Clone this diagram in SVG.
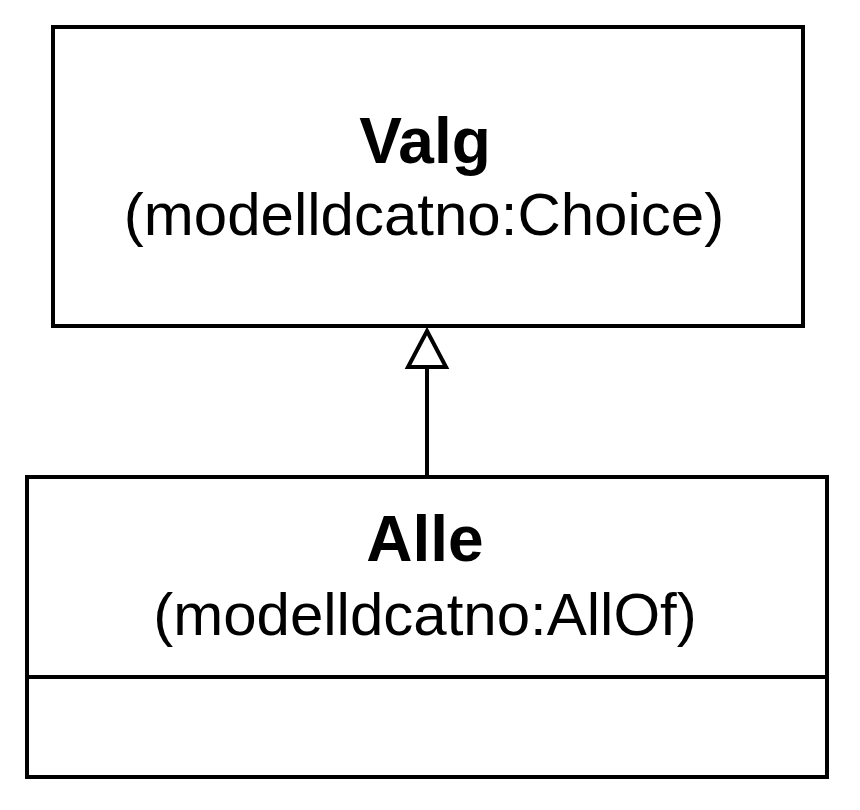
<svg xmlns="http://www.w3.org/2000/svg" width="860" height="810" viewBox="0 0 860 810">
<style>
.b{fill:#fff;stroke:#000;stroke-width:4}
.t{font-family:"Liberation Sans",Arial,sans-serif;text-anchor:middle;fill:#000}
.h{font-weight:bold;font-size:64px}
.s{font-size:60px}
</style>
<rect width="860" height="810" fill="#fff"/>
<g id="connectors">
<line x1="427" y1="477" x2="427" y2="367" stroke="#000" stroke-width="4"/>
<polygon points="427,331 446,367 408,367" fill="#fff" stroke="#000" stroke-width="4"/>
</g>
<g id="valg">
<rect class="b" x="53" y="27" width="750" height="299"/>
<text class="t h" x="425" y="163">Valg</text>
<text class="t s" x="424" y="235">(modelldcatno:Choice)</text>
</g>
<g id="alle">
<rect class="b" x="27" y="477" width="800" height="300"/>
<line x1="27" y1="677" x2="827" y2="677" stroke="#000" stroke-width="4"/>
<text class="t h" x="425" y="561">Alle</text>
<text class="t s" x="425" y="635">(modelldcatno:AllOf)</text>
</g>
</svg>
